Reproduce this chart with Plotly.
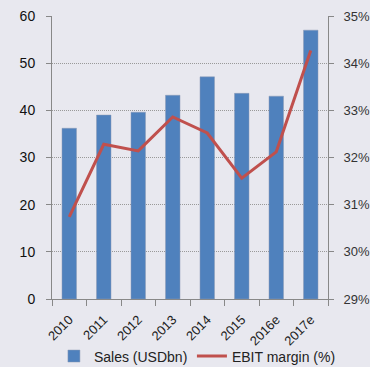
import plotly.graph_objects as go

years = ["2010", "2011", "2012", "2013", "2014", "2015", "2016e", "2017e"]
sales = [36.2, 39.0, 39.6, 43.2, 47.1, 43.6, 43.0, 57.0]
ebit_margin = [30.74, 32.28, 32.14, 32.86, 32.52, 31.56, 32.12, 34.27]

bg = "#E8E8EF"
lfont = dict(family="Liberation Sans", size=14, color="#222")
fig = go.Figure()
fig.add_trace(go.Bar(x=years, y=sales, name="Sales (USDbn)", legend="legend",
                     marker=dict(color="#4F81BD", line=dict(color="#8C9BB5", width=0.5)), width=0.42))
fig.add_trace(go.Scatter(x=years, y=ebit_margin, name="EBIT margin (%)", mode="lines", legend="legend2",
                         line=dict(color="#C0504D", width=3), yaxis="y2"))

fig.update_layout(
    width=370, height=367,
    margin=dict(l=52, r=42, t=16, b=68, autoexpand=False),
    paper_bgcolor=bg, plot_bgcolor=bg,
    showlegend=True,
    legend=dict(x=0.007, xanchor="left", y=-0.203, yanchor="middle", font=lfont,
                bgcolor="rgba(0,0,0,0)"),
    legend2=dict(x=0.507, xanchor="left", y=-0.203, yanchor="middle", font=lfont,
                 bgcolor="rgba(0,0,0,0)"),
    xaxis=dict(showline=True, linecolor="#888", linewidth=1, ticks="outside", ticklen=6, tickcolor="#888",
               tickson="boundaries", tickangle=-45, showgrid=False, automargin=False, ticklabelstandoff=7,
               tickfont=dict(family="Liberation Sans", size=13, color="#222")),
    yaxis=dict(range=[0, 60], dtick=10, showline=True, linecolor="#888", linewidth=1, ticks="outside", ticklen=5,
               tickcolor="#888", showgrid=True, gridcolor="#999", griddash="1px,1px", gridwidth=1, zeroline=False,
               ticklabelstandoff=8, automargin=False,
               tickfont=dict(family="Liberation Sans", size=14, color="#111")),
    yaxis2=dict(range=[29, 35], dtick=1, ticksuffix="%", overlaying="y", side="right", showline=True,
                linecolor="#888", linewidth=1, ticks="outside", ticklen=5, tickcolor="#888", showgrid=False,
                zeroline=False, ticklabelstandoff=7, automargin=False,
                tickfont=dict(family="Liberation Sans", size=13, color="#333")),
)
fig.write_html("out.html")
